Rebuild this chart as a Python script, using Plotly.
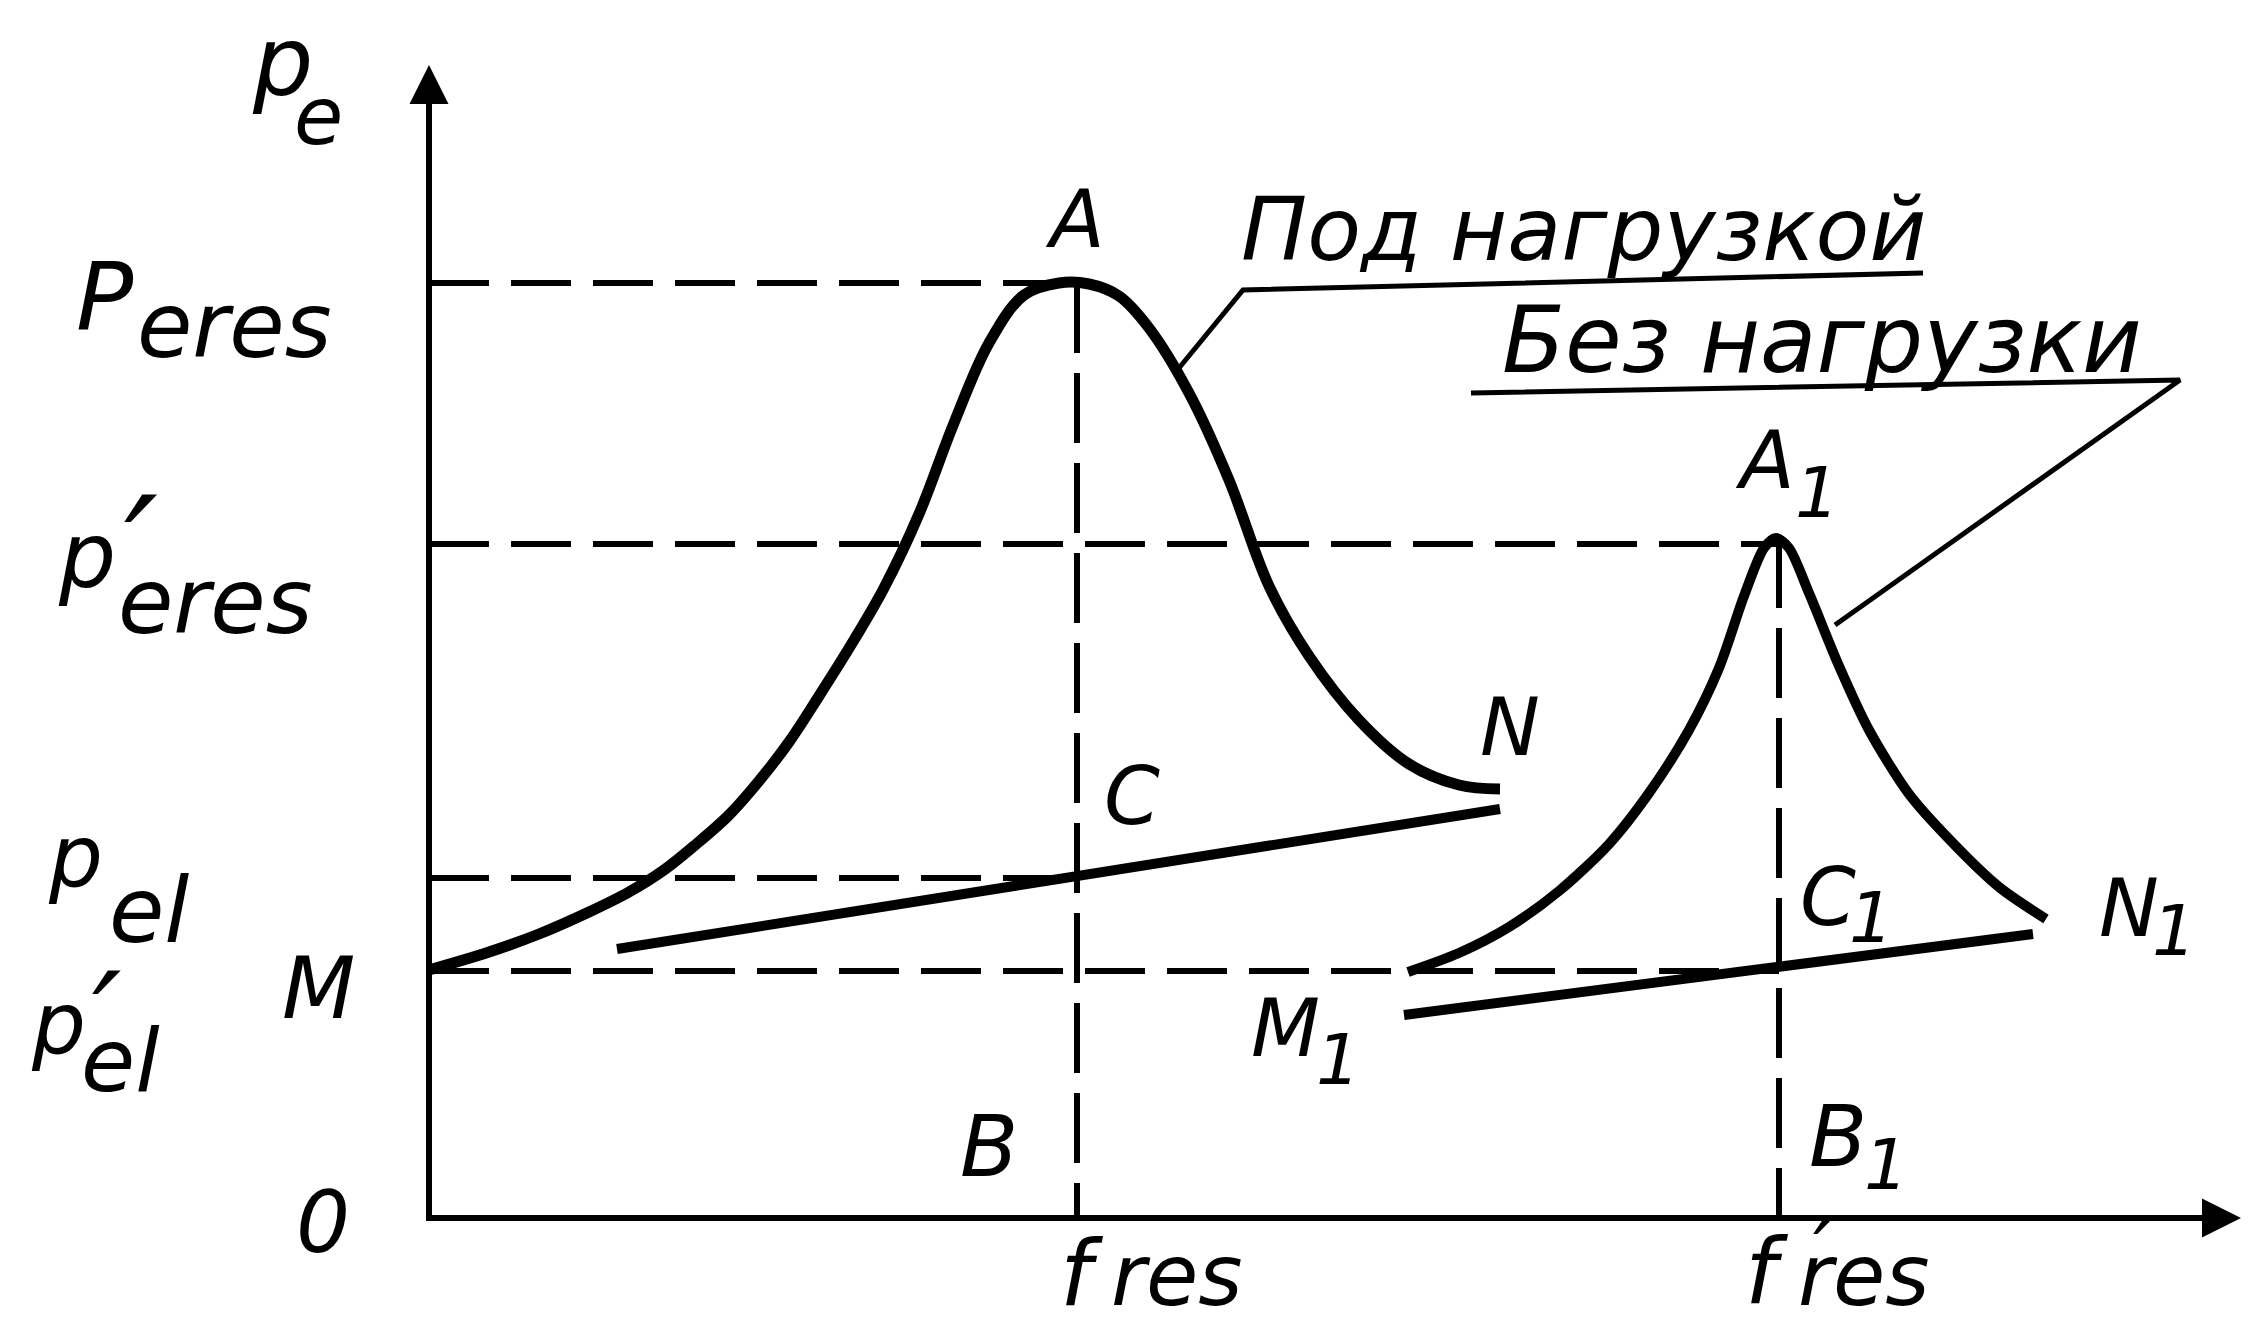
import plotly.graph_objects as go

# characteristic levels (arbitrary units)
p_eres = 9.35       # resonance pressure, loaded
p_eres1 = 6.74      # resonance pressure, unloaded
p_el = 3.40
p_el1 = 2.47
f_res = 6.48
f_res1 = 13.50

# "Под нагрузкой" curve M-A-N
loaded_f = [0, 0.6, 1.1, 1.6, 2.0, 2.35, 2.65, 3.0, 3.3, 3.6, 3.9, 4.25, 4.55, 4.9, 5.25,
            5.6, 5.95, 6.3, 6.6, 6.9, 7.2, 7.6, 8.0, 8.4, 8.8, 9.3, 9.8, 10.3, 10.71]
loaded_p = [2.48, 2.66, 2.84, 3.06, 3.26, 3.48, 3.72, 4.03, 4.37, 4.76, 5.22, 5.78, 6.30,
            7.04, 7.95, 8.75, 9.23, 9.35, 9.34, 9.22, 8.90, 8.25, 7.38, 6.32, 5.62, 4.98,
            4.54, 4.33, 4.29]

# "Без нагрузки" curve M1-A1-N1
unloaded_f = [9.79, 10.3, 10.8, 11.3, 11.8, 12.2, 12.6, 12.9, 13.15, 13.35, 13.47, 13.6,
              13.8, 14.1, 14.4, 14.8, 15.2, 15.7, 16.17]
unloaded_p = [2.46, 2.65, 2.91, 3.27, 3.74, 4.25, 4.88, 5.50, 6.22, 6.70, 6.80, 6.70,
              6.25, 5.52, 4.88, 4.24, 3.79, 3.31, 2.99]

# straight characteristics through C and C1
line_mc_f = [1.88, 10.71]
line_mc_p = [2.69, 4.09]
line_m1n1_f = [9.75, 16.04]
line_m1n1_p = [2.03, 2.84]

# leader lines for the captions
lead_load_f = [7.50, 8.14, 14.94]
lead_load_p = [8.50, 9.28, 9.45]
lead_free_f = [14.06, 17.51, 10.42]
lead_free_p = [5.93, 8.38, 8.25]

x_max = 18.12
y_max = 11.53

fig = go.Figure()

BLACK = "black"
dash_h = "60px,22px"
dash_v = "70px,20px"

# axes
fig.add_trace(go.Scatter(x=[0, 0, x_max - 0.2], y=[y_max - 0.2, 0, 0], mode="lines",
                         line=dict(color=BLACK, width=6), hoverinfo="skip"))

# dashed helper lines
peak_i = loaded_p.index(max(loaded_p))
peak1_i = unloaded_p.index(max(unloaded_p))
for lvl, end in [(p_eres, loaded_f[peak_i]), (p_eres1, unloaded_f[peak1_i]),
                 (p_el, f_res), (p_el1, f_res1)]:
    fig.add_trace(go.Scatter(x=[0, end], y=[lvl, lvl], mode="lines",
                             line=dict(color=BLACK, width=6, dash=dash_h), hoverinfo="skip"))
for fx, top in [(f_res, p_eres), (f_res1, unloaded_p[peak1_i])]:
    fig.add_trace(go.Scatter(x=[fx, fx], y=[top, 0], mode="lines",
                             line=dict(color=BLACK, width=6, dash=dash_v), hoverinfo="skip"))

# resonance curves
fig.add_trace(go.Scatter(x=loaded_f, y=loaded_p, mode="lines",
                         line=dict(color=BLACK, width=11, shape="spline", smoothing=1.0),
                         hoverinfo="skip"))
fig.add_trace(go.Scatter(x=unloaded_f, y=unloaded_p, mode="lines",
                         line=dict(color=BLACK, width=10, shape="spline", smoothing=0.8),
                         hoverinfo="skip"))

# straight characteristics
for xs, ys in [(line_mc_f, line_mc_p), (line_m1n1_f, line_m1n1_p)]:
    fig.add_trace(go.Scatter(x=xs, y=ys, mode="lines",
                             line=dict(color=BLACK, width=10), hoverinfo="skip"))

# leaders and underlines
fig.add_trace(go.Scatter(x=lead_load_f, y=lead_load_p, mode="lines",
                         line=dict(color=BLACK, width=5), hoverinfo="skip"))
fig.add_trace(go.Scatter(x=lead_free_f, y=lead_free_p, mode="lines",
                         line=dict(color=BLACK, width=5), hoverinfo="skip"))

# arrowheads
fig.add_annotation(x=0, y=y_max, ax=0, ay=y_max - 1.0, xref="x", yref="y", axref="x", ayref="y",
                   showarrow=True, arrowhead=2, arrowsize=1.3, arrowwidth=6, arrowcolor=BLACK, text="")
fig.add_annotation(x=x_max, y=0, ax=x_max - 1.0, ay=0, xref="x", yref="y", axref="x", ayref="y",
                   showarrow=True, arrowhead=2, arrowsize=1.3, arrowwidth=6, arrowcolor=BLACK, text="")

labels = [
    ("p", -1.47, 11.56, 95), ("e", -1.11, 11.02, 80),
    ("P", -3.24, 9.21, 95), ("eres", -1.95, 8.93, 90),
    ("p", -3.42, 6.63, 90), ("′", -2.88, 6.66, 150), ("eres", -2.14, 6.17, 90),
    ("p", -3.54, 3.62, 85), ("el", -2.80, 3.08, 90),
    ("p", -3.71, 1.95, 85), ("′", -3.22, 1.98, 130), ("el", -3.09, 1.58, 88),
    ("M", -1.11, 2.30, 85), ("0", -1.06, -0.04, 85),
    ("B", 5.60, 0.72, 85), ("B", 14.09, 0.82, 85), ("1", 14.57, 0.53, 70),
    ("f", 6.53, -0.55, 90), ("res", 7.48, -0.57, 85),
    ("f", 13.38, -0.53, 90), ("′", 13.95, -0.36, 100), ("res", 14.35, -0.57, 85),
    ("A", 6.46, 9.99, 80), ("A", 13.36, 7.58, 80), ("1", 13.88, 7.25, 70),
    ("C", 7.03, 4.22, 80), ("C", 13.99, 3.21, 80), ("1", 14.42, 3.00, 70),
    ("N", 10.81, 4.91, 80), ("N", 17.00, 3.10, 80), ("1", 17.45, 2.87, 70),
    ("M", 8.56, 1.90, 80), ("1", 9.09, 1.58, 70),
    ("Под нагрузкой", 11.54, 9.89, 88), ("Без нагрузки", 13.93, 8.78, 92),
]
for txt, lx, ly, sz in labels:
    fig.add_annotation(x=lx, y=ly, text=txt, showarrow=False, xanchor="center", yanchor="middle",
                       font=dict(family="DejaVu Sans", size=sz, color=BLACK, style="italic"))

fig.update_layout(
    width=2236, height=1318,
    margin=dict(l=0, r=0, t=0, b=0),
    paper_bgcolor="white", plot_bgcolor="white",
    showlegend=False,
    xaxis=dict(range=[-4.21, 18.15], visible=False, fixedrange=True),
    yaxis=dict(range=[-1.08, 12.10], visible=False, fixedrange=True),
)

fig.write_html("out.html")
